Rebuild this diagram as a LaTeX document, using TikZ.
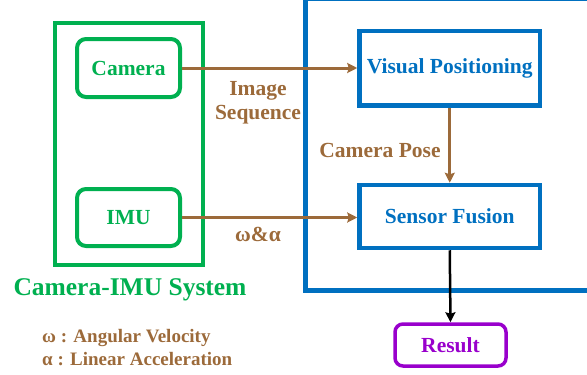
\documentclass[tikz,border=0pt]{standalone}
\usepackage{fontspec}
\setmainfont{Liberation Serif}
\usetikzlibrary{arrows.meta}
\definecolor{cgreen}{HTML}{00B050}
\definecolor{cblue}{HTML}{0070C0}
\definecolor{cbrown}{HTML}{9C6A3A}
\definecolor{cpurple}{HTML}{9900CC}
\tikzset{
  gbox/.style={draw=cgreen, line width=4pt, rounded corners=9pt, inner sep=0pt, text=cgreen, font=\fontsize{21.5}{24}\selectfont\bfseries},
  bbox/.style={draw=cblue, line width=4.5pt, inner sep=0pt, text=cblue, font=\fontsize{21.5}{24}\selectfont\bfseries},
  pbox/.style={draw=cpurple, line width=3.5pt, rounded corners=8pt, inner sep=0pt, text=cpurple, font=\fontsize{21.5}{24}\selectfont\bfseries},
  blab/.style={text=cbrown, font=\fontsize{21.5}{24}\selectfont\bfseries, inner sep=0pt, align=center},
  barrow/.style={draw=cbrown, line width=3pt, -{Stealth[length=10pt,width=10pt,inset=1.5pt]}},
  karrow/.style={draw=black, line width=2.5pt, -{Stealth[length=10pt,width=10pt,inset=1.5pt]}},
}
\begin{document}
\begin{tikzpicture}[x=1pt,y=-1pt]
\useasboundingbox (0,0) rectangle (587,375);
\begin{scope}
\clip (0,0) rectangle (587,375);
\node[draw=cblue, line width=5pt, minimum width=300pt, minimum height=292pt, inner sep=0pt] (outerb) at (455.5,144) {};
\end{scope}
\node[draw=cgreen, line width=4pt, minimum width=148.5pt, minimum height=242pt, inner sep=0pt] (outerg) at (128.75,144) {};
\node[gbox, minimum width=103pt, minimum height=58pt] (cam) at (128.5,68) {Camera};
\node[gbox, minimum width=103pt, minimum height=57pt] (imu) at (128.5,217.5) {IMU};
\node[bbox, minimum width=180.5pt, minimum height=74.5pt] (vp) at (449.75,68) {Visual Positioning};
\node[bbox, minimum width=180.5pt, minimum height=63pt] (sf) at (449.75,216.5) {Sensor Fusion};
\node[pbox, minimum width=111pt, minimum height=42pt] (res) at (450.5,345) {Result};
\node[text=cgreen, font=\fontsize{25.5}{30}\selectfont\bfseries, inner sep=0pt] (sys) at (130,290) {Camera-IMU System};
\node[blab] (imgseq) at (258,103) {Image\\Sequence};
\node[blab] (pose) at (380,150) {Camera Pose};
\node[blab] (wa) at (258,234) {ω\&α};
\node[text=cbrown, font=\fontsize{19}{22}\selectfont\bfseries, inner sep=0pt, anchor=base west] (leg1) at (42,342.5) {ω : Angular Velocity};
\node[text=cbrown, font=\fontsize{19}{22}\selectfont\bfseries, inner sep=0pt, anchor=base west] (leg2) at (42,365) {α : Linear Acceleration};
\draw[barrow] (cam.east) -- (cam.east -| vp.west);
\draw[barrow] (imu.east) -- (imu.east -| sf.west);
\draw[barrow] (vp.south) -- (sf.north);
\draw[karrow] (sf.south) -- (res.north);
\end{tikzpicture}
\end{document}
